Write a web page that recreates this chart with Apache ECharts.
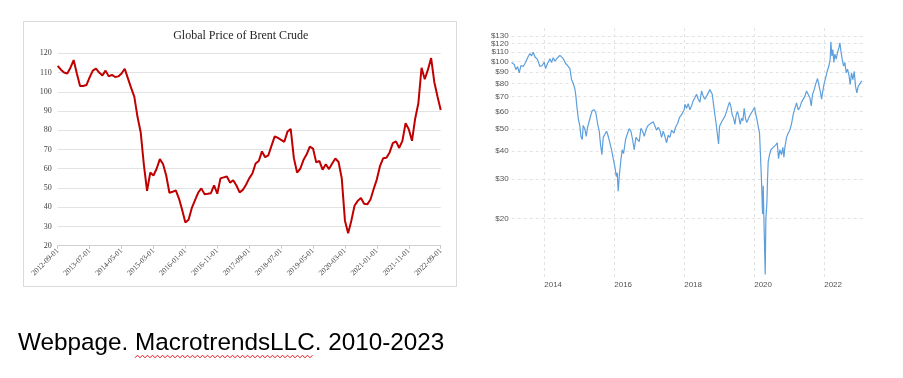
<!DOCTYPE html>
<html>
<head>
<meta charset="utf-8">
<script src="https://cdn.jsdelivr.net/npm/echarts@6/dist/echarts.min.js"></script>
<style>
  html, body { margin: 0; padding: 0; background: #fff; }
  #chart { width: 903px; height: 378px; }
</style>
</head>
<body>
<div id="chart"></div>
<script>
// left panel: monthly Brent, Sep 2012 .. Sep 2022
const brentStart = [2012, 9];
const brentPrices = [
  113.5, 111.5, 110, 109.5, 112.5, 116.5, 109.5, 103, 103, 103.5,
  107.5, 111, 112, 110, 108.5, 111, 108, 108.8, 107.7, 108,
  109.5, 112, 107, 102, 97.5, 87, 79, 62, 48.5, 58,
  56.5, 60, 65, 62.5, 56.5, 47.5, 48, 48.8, 44.5, 38.5,
  32, 33.5, 39.5, 43.5, 47.5, 49.8, 46.8, 47, 47.3, 51.3,
  47, 55, 55.5, 56, 52.8, 54, 51.3, 47.7, 49, 51.7,
  55, 57.5, 62.7, 64, 69, 66, 67, 72, 76.8, 76,
  75, 74, 79.3, 80.7, 65.5, 58, 60, 64.5, 67.5, 71.5,
  70.5, 63.3, 64, 59.5, 62.3, 59.8, 62.7, 65.3, 63.5, 55,
  33, 26.5, 33, 40.8, 43.3, 44.8, 41.8, 41.5, 44, 49.5,
  54.5, 61.5, 65.5, 65.7, 68.5, 73.3, 74.2, 70.8, 74.5, 83.7,
  80.5, 74.5, 86, 94, 112.5, 106.5, 111.5, 117.5, 105, 97.5,
  90.5
];
const brentTitle = 'Global Price of Brent Crude';

// right panel: crude oil price (log scale), read at ~2-3 week steps
const wtiYears = [
  2013.067, 2013.143, 2013.19, 2013.238, 2013.286, 2013.333, 2013.4, 2013.467, 2013.524, 2013.59,
  2013.638, 2013.686, 2013.733, 2013.81, 2013.876, 2013.943, 2014, 2014.038, 2014.095, 2014.162,
  2014.21, 2014.257, 2014.305, 2014.381, 2014.448, 2014.495, 2014.543, 2014.61, 2014.667, 2014.733,
  2014.781, 2014.829, 2014.876, 2014.905, 2014.933, 2014.971, 2015.019, 2015.048, 2015.086, 2015.114,
  2015.162, 2015.2, 2015.238, 2015.276, 2015.314, 2015.371, 2015.429, 2015.476, 2015.524, 2015.571,
  2015.61, 2015.648, 2015.686, 2015.733, 2015.781, 2015.829, 2015.876, 2015.924, 2015.971, 2016.019,
  2016.057, 2016.086, 2016.114, 2016.143, 2016.19, 2016.229, 2016.267, 2016.324, 2016.381, 2016.429,
  2016.476, 2016.524, 2016.571, 2016.619, 2016.667, 2016.714, 2016.762, 2016.81, 2016.857, 2016.924,
  2016.971, 2017.038, 2017.114, 2017.162, 2017.21, 2017.257, 2017.305, 2017.352, 2017.4, 2017.448,
  2017.495, 2017.543, 2017.59, 2017.638, 2017.705, 2017.752, 2017.81, 2017.867, 2017.924, 2018,
  2018.019, 2018.067, 2018.114, 2018.162, 2018.21, 2018.257, 2018.305, 2018.352, 2018.4, 2018.448,
  2018.495, 2018.543, 2018.59, 2018.638, 2018.686, 2018.733, 2018.762, 2018.8, 2018.838, 2018.876,
  2018.914, 2018.952, 2018.981, 2019.01, 2019.048, 2019.086, 2019.124, 2019.162, 2019.21, 2019.257,
  2019.295, 2019.333, 2019.371, 2019.41, 2019.448, 2019.486, 2019.524, 2019.562, 2019.6, 2019.638,
  2019.676, 2019.714, 2019.752, 2019.79, 2019.829, 2019.876, 2019.924, 2019.971, 2020.01, 2020.038,
  2020.076, 2020.114, 2020.152, 2020.181, 2020.21, 2020.238, 2020.257, 2020.276, 2020.295, 2020.314,
  2020.333, 2020.362, 2020.381, 2020.4, 2020.438, 2020.476, 2020.543, 2020.61, 2020.657, 2020.695,
  2020.733, 2020.781, 2020.819, 2020.848, 2020.876, 2020.924, 2020.971, 2021.019, 2021.067, 2021.114,
  2021.162, 2021.21, 2021.257, 2021.305, 2021.352, 2021.4, 2021.448, 2021.495, 2021.543, 2021.59,
  2021.629, 2021.667, 2021.714, 2021.762, 2021.81, 2021.857, 2021.895, 2021.924, 2021.962, 2022,
  2022.048, 2022.095, 2022.133, 2022.171, 2022.19, 2022.219, 2022.248, 2022.276, 2022.305, 2022.343,
  2022.381, 2022.419, 2022.448, 2022.476, 2022.514, 2022.552, 2022.59, 2022.629, 2022.667, 2022.705,
  2022.743, 2022.781, 2022.819, 2022.857, 2022.895, 2022.933, 2022.971, 2023.01, 2023.048, 2023.086
];
const wtiPrices = [
  99, 97, 92, 95, 89, 96, 95, 99, 104, 108.5,
  106, 110, 105, 102, 95, 96, 99.5, 93, 98, 103,
  99, 104, 100.5, 104, 106.5, 106, 103, 98, 96, 93,
  83, 80, 75.5, 70, 63, 56, 51.5, 46.5, 45, 52,
  50, 46.5, 51, 52, 56.5, 60.5, 61, 59, 53, 49,
  42.5, 38.5, 46, 47.5, 49, 46.5, 43.5, 40.5, 37, 34,
  30.8, 32, 26.5, 30.8, 36.5, 40.5, 39, 45, 48, 50.3,
  49, 45, 40.5, 46, 46.5, 44, 50.5, 49, 46.5, 50.5,
  52, 53, 54, 53, 49.5, 51, 49.5, 46, 49, 46.5,
  43.5, 47, 46, 49.5, 48, 51, 53, 56.5, 58, 61,
  64.5, 62, 65, 61, 63.5, 67, 69, 71.5, 68, 66,
  74, 70, 68, 70, 69, 75, 76.5, 71.5, 64.5, 58,
  52.5, 51.5, 43, 51.5, 52.5, 54.5, 55.5, 57, 60, 63.5,
  66, 63, 58, 56, 52.5, 58, 60, 56.5, 52.5, 56,
  54.5, 62, 55.5, 53.5, 55.5, 57.5, 58, 61, 62.5, 59,
  55.5, 51.5, 48, 37.5, 29, 21, 28, 20.3, 20, 11.3,
  20, 23.5, 30, 36, 38.5, 40.5, 41.5, 42.5, 43.5, 37,
  40.5, 38.5, 41.5, 37.5, 41.5, 46, 48, 49.5, 53, 58,
  62, 65.5, 61, 62.5, 66, 65, 70, 74, 74.5, 69,
  63.5, 71.5, 75, 80, 84, 83, 72.5, 68, 74, 80,
  85.5, 91.5, 95.5, 102.5, 122.5, 106, 113, 99, 108, 102.5,
  110, 115, 121, 111.5, 102.5, 95.5, 99, 89, 92.5, 87.5,
  79, 89, 83, 90.5, 77.5, 72.5, 77.5, 76, 81, 82
];
const wtiYearTicks = [2014, 2016, 2018, 2020, 2022];
const wtiPriceTicks = [20, 30, 40, 50, 60, 70, 80, 90, 100, 110, 120, 130];

const caption = 'Webpage. MacrotrendsLLC. 2010-2023';

// month labels like 2012-09-01
const brentMonths = brentPrices.map((_, i) => {
  const m = brentStart[1] - 1 + i;
  const y = brentStart[0] + Math.floor(m / 12);
  return `${y}-${String(m % 12 + 1).padStart(2, '0')}-01`;
});

const chart = echarts.init(document.getElementById('chart'), null, { renderer: 'canvas' });

// spell-check squiggle under "MacrotrendsLLC"
const squiggle = [];
for (let k = 0, x = 135; x <= 313; k++, x += 2.5) squiggle.push([x, k % 2 ? 355.2 : 357.8]);

const serif = 'Liberation Serif';
const sans = 'Liberation Sans';
const dash = { type: [3, 3], color: '#e3e3e3', width: 1 };

chart.setOption({
  animation: false,
  backgroundColor: '#fff',
  grid: [
    { left: 57.7, right: 462.3, top: 53.3, bottom: 132.3 },
    { left: 511.7, right: 40.3, top: 28, bottom: 98 },
  ],
  xAxis: [
    {
      type: 'category', gridIndex: 0, data: brentMonths, boundaryGap: false,
      axisLine: { lineStyle: { color: '#d0d0d0' } },
      axisTick: { interval: 9, length: 3, lineStyle: { color: '#c8c8c8' } },
      axisLabel: {
        interval: 9, rotate: 45, margin: 4,
        fontFamily: serif, fontSize: 7.5, color: '#404040',
      },
      splitLine: { show: false },
    },
    {
      type: 'value', gridIndex: 1, min: 2013.07, max: 2023.1,
      axisLine: { show: false },
      axisTick: { show: false, customValues: wtiYearTicks },
      axisLabel: {
        customValues: wtiYearTicks, align: 'left', margin: 1,
        fontFamily: sans, fontSize: 8, color: '#555',
        formatter: v => String(v),
      },
      splitLine: { show: true, lineStyle: dash },
    },
  ],
  yAxis: [
    {
      type: 'value', gridIndex: 0, min: 20, max: 120, interval: 10,
      axisLine: { show: false }, axisTick: { show: false },
      axisLabel: { margin: 6, fontFamily: serif, fontSize: 8, color: '#404040' },
      splitLine: { lineStyle: { color: '#e2e2e2' } },
    },
    {
      type: 'log', logBase: 10, gridIndex: 1, min: 10.67, max: 141,
      axisLine: { show: false },
      axisTick: { show: false, customValues: wtiPriceTicks },
      axisLabel: {
        customValues: wtiPriceTicks, margin: 3,
        fontFamily: sans, fontSize: 8, color: '#555',
        formatter: v => '$' + Math.round(v),
      },
      splitLine: { show: true, lineStyle: dash },
    },
  ],
  series: [
    {
      name: 'Brent', type: 'line', xAxisIndex: 0, yAxisIndex: 0,
      data: brentPrices, symbol: 'none',
      lineStyle: { color: '#c00000', width: 2 },
    },
    {
      name: 'Crude Oil', type: 'line', xAxisIndex: 1, yAxisIndex: 1,
      data: wtiYears.map((y, i) => [y, wtiPrices[i]]), symbol: 'none',
      lineStyle: { color: '#5d9fdc', width: 1.2 },
    },
  ],
  graphic: [
    {
      type: 'rect', silent: true,
      shape: { x: 23.5, y: 21.5, width: 433, height: 265 },
      style: { fill: 'none', stroke: '#d9d9d9', lineWidth: 1 },
    },
    {
      type: 'text', x: 240.8, y: 36,
      style: {
        text: brentTitle, font: `12px "${serif}"`, fill: '#262626',
        align: 'center', verticalAlign: 'middle',
      },
    },
    {
      type: 'text', x: 18, y: 343.5,
      style: {
        text: caption, font: `24.3px "${sans}"`, fill: '#000',
        align: 'left', verticalAlign: 'middle',
      },
    },
    {
      type: 'polyline', silent: true,
      shape: { points: squiggle },
      style: { stroke: '#e8191e', lineWidth: 1, fill: 'none' },
    },
  ],
});
</script>
</body>
</html>
